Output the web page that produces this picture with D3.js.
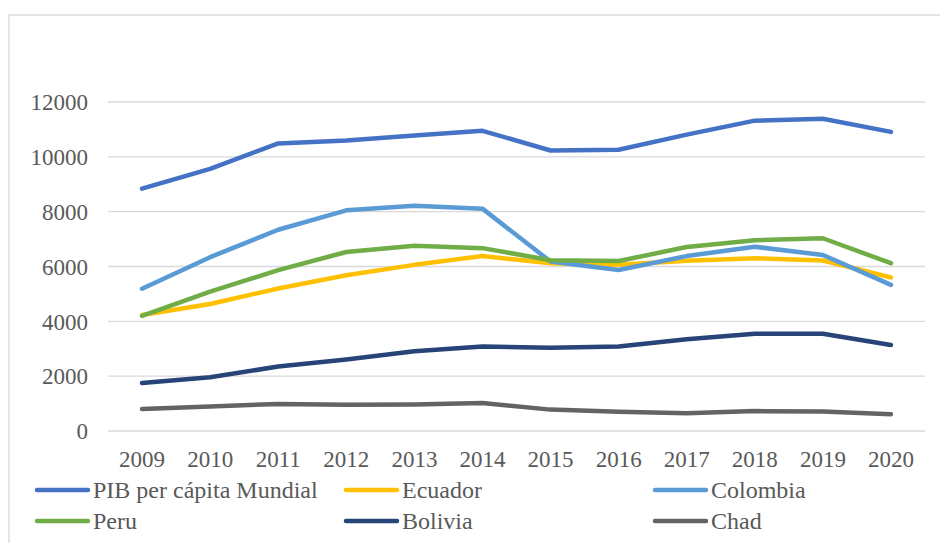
<!DOCTYPE html>
<html>
<head>
<meta charset="utf-8">
<script src="https://cdn.jsdelivr.net/npm/d3@7"></script>
<style>
  body { margin: 0; background: #fff; }
  text { font-family: "Liberation Serif", "Times New Roman", serif; fill: #595959; }
</style>
</head>
<body>
<script>
var years = ["2009","2010","2011","2012","2013","2014","2015","2016","2017","2018","2019","2020"];
var yTicks = [0, 2000, 4000, 6000, 8000, 10000, 12000];

var mundial  = [8840, 9560, 10490, 10600, 10780, 10950, 10230, 10260, 10810, 11320, 11390, 10910];
var ecuador  = [4230, 4630, 5200, 5680, 6060, 6380, 6120, 6060, 6210, 6300, 6220, 5600];
var colombia = [5190, 6340, 7340, 8050, 8220, 8110, 6180, 5870, 6380, 6720, 6420, 5330];
var peru     = [4200, 5080, 5870, 6530, 6760, 6670, 6230, 6200, 6710, 6960, 7030, 6120];
var bolivia  = [1750, 1960, 2350, 2610, 2910, 3080, 3040, 3080, 3350, 3550, 3550, 3140];
var chad     = [800, 895, 985, 960, 970, 1020, 780, 700, 650, 725, 710, 610];

var seriesNames = ["PIB per cápita Mundial", "Ecuador", "Colombia", "Peru", "Bolivia", "Chad"];
var seriesValues = [mundial, ecuador, colombia, peru, bolivia, chad];
var colors = ["#4472C4", "#FFC000", "#5B9BD5", "#70AD47", "#264478", "#636363"];

var width = 940, height = 543;

var svg = d3.select("body").append("svg")
    .attr("width", width)
    .attr("height", height);

// chart frame
svg.append("rect")
    .attr("x", 9).attr("y", 15)
    .attr("width", 940).attr("height", 560)
    .attr("fill", "none")
    .attr("stroke", "#d9d9d9")
    .attr("stroke-width", 1.3);

var x = d3.scaleBand().domain(years).range([108, 925]);
var y = d3.scaleLinear().domain([0, 12000]).range([431, 102]);

// gridlines
svg.append("g").selectAll("line")
    .data(yTicks)
    .enter().append("line")
    .attr("x1", 108).attr("x2", 925)
    .attr("y1", function(d) { return y(d); })
    .attr("y2", function(d) { return y(d); })
    .attr("stroke", "#d9d9d9")
    .attr("stroke-width", 1.3);

// y labels
svg.append("g").selectAll("text")
    .data(yTicks)
    .enter().append("text")
    .attr("x", 88)
    .attr("y", function(d) { return y(d); })
    .attr("dy", "0.36em")
    .attr("text-anchor", "end")
    .attr("font-size", 23)
    .text(function(d) { return d; });

// x labels
svg.append("g").selectAll("text")
    .data(years)
    .enter().append("text")
    .attr("x", function(d) { return x(d) + x.bandwidth() / 2; })
    .attr("y", 467)
    .attr("text-anchor", "middle")
    .attr("font-size", 23)
    .text(function(d) { return d; });

var line = d3.line()
    .x(function(d, i) { return x(years[i]) + x.bandwidth() / 2; })
    .y(function(d) { return y(d); });

svg.append("g").selectAll("path")
    .data(seriesValues)
    .enter().append("path")
    .attr("d", line)
    .attr("fill", "none")
    .attr("stroke", function(d, i) { return colors[i]; })
    .attr("stroke-width", 4.5)
    .attr("stroke-linejoin", "round")
    .attr("stroke-linecap", "round");

// legend
var legend = svg.append("g").selectAll("g")
    .data(seriesNames)
    .enter().append("g")
    .attr("transform", function(d, i) {
        return "translate(" + (35 + (i % 3) * 309) + "," + (490 + Math.floor(i / 3) * 31) + ")";
    });

legend.append("line")
    .attr("x1", 2).attr("x2", 53)
    .attr("y1", 0).attr("y2", 0)
    .attr("stroke", function(d, i) { return colors[i]; })
    .attr("stroke-width", 4.5)
    .attr("stroke-linecap", "round");

legend.append("text")
    .attr("x", 58)
    .attr("y", 8)
    .attr("font-family", "Liberation Serif, serif")
    .attr("font-size", 24)
    .text(function(d) { return d; });
</script>
</body>
</html>
